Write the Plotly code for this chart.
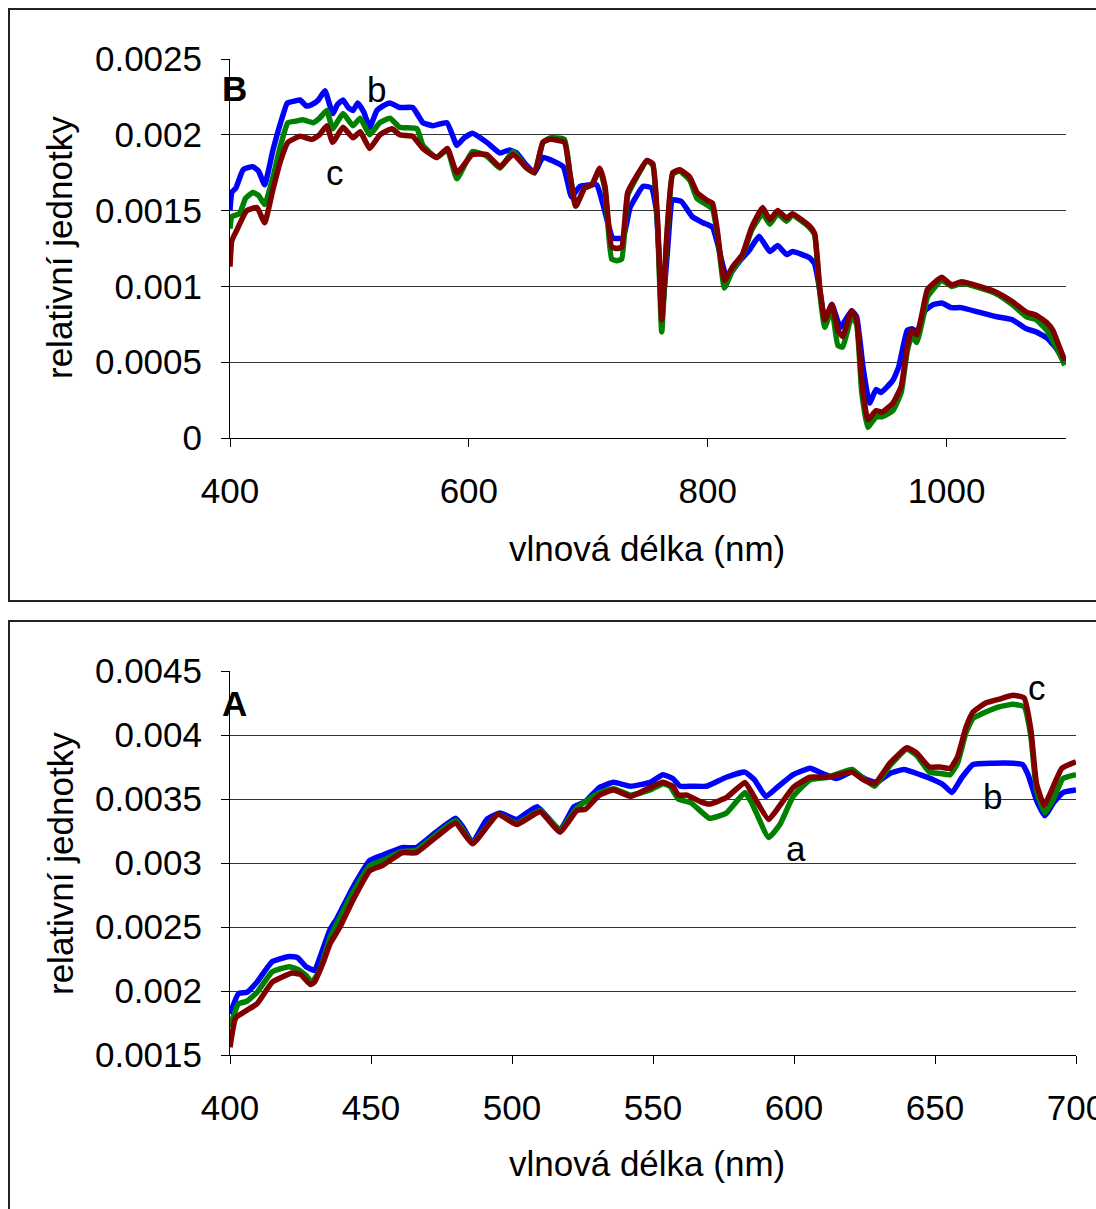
import plotly.graph_objects as go

# ---------------- Panel B (400-1100 nm) ----------------
b_blue_x = [400, 401.5, 405, 411, 419, 424, 429, 436, 442, 448, 453, 458.6, 464, 468.6, 474, 479.5, 486, 490, 494.6, 499, 503, 507, 512, 517, 523, 528, 534, 542, 553, 561.5, 570, 581.6, 590, 596, 603, 615, 626, 634, 640, 647, 655, 662, 679, 686, 693, 707, 712, 717, 720.5, 729, 735, 746, 753, 757, 762, 766, 770.7, 778, 787, 796, 804, 808, 816, 827, 835, 843, 852, 858.6, 866, 871, 885, 889.5, 893.7, 898, 904, 911, 920.5, 924.7, 930, 935.5, 941, 945, 955, 960, 967, 971, 975.6, 982, 989, 996, 1004, 1012, 1027, 1042, 1055, 1067, 1075, 1084, 1092, 1099]
b_blue_y = [0.00150, 0.00162, 0.00165, 0.00177, 0.00179, 0.00176, 0.00167, 0.00190, 0.00207, 0.00221, 0.00222, 0.00223, 0.00219, 0.00220, 0.00223, 0.00229, 0.00214, 0.00220, 0.00223, 0.00218, 0.00216, 0.00221, 0.00215, 0.00205, 0.00216, 0.00219, 0.00221, 0.00218, 0.00218, 0.00208, 0.00206, 0.00208, 0.00193, 0.00198, 0.00201, 0.00195, 0.00188, 0.00190, 0.00188, 0.00181, 0.00175, 0.00185, 0.00179, 0.00159, 0.00166, 0.00167, 0.00155, 0.00140, 0.00132, 0.00132, 0.00152, 0.00166, 0.00165, 0.00150, 0.00085, 0.00120, 0.00157, 0.00156, 0.00146, 0.00142, 0.00139, 0.00129, 0.00106, 0.00117, 0.00124, 0.00133, 0.00123, 0.00127, 0.00121, 0.00123, 0.00119, 0.00115, 0.00098, 0.00078, 0.00088, 0.00073, 0.00084, 0.00080, 0.00047, 0.00023, 0.00032, 0.00030, 0.00038, 0.00047, 0.00071, 0.00072, 0.00070, 0.00084, 0.00088, 0.00089, 0.00086, 0.00086, 0.00083, 0.00080, 0.00078, 0.00072, 0.00070, 0.00066, 0.00059, 0.00050]

b_green_x = [400, 401.5, 408, 413, 419, 424, 429, 436, 442, 448.5, 455, 461, 469.5, 475, 481, 486, 494.6, 503, 509, 517, 525.5, 534, 542, 556.5, 561.5, 573, 582, 590, 603, 615, 626, 637, 648.5, 655, 662, 668, 680, 684.5, 689.5, 697, 703, 709.6, 714, 719.6, 724, 728, 733, 740.6, 749, 754, 758, 761.5, 765.7, 770.7, 776.6, 785, 791, 799, 804, 808, 814, 821, 829, 836.8, 846, 852, 858.6, 866, 871, 885, 889.5, 893.7, 898, 904, 909, 913, 920.5, 924.7, 929, 934, 941, 946, 955, 962, 967, 970.7, 975, 980, 984, 996, 1004, 1012.5, 1027.6, 1042, 1055, 1067, 1075, 1084, 1093, 1099]
b_green_y = [0.00138, 0.00146, 0.00148, 0.00158, 0.00162, 0.00160, 0.00154, 0.00172, 0.00192, 0.00208, 0.00209, 0.00210, 0.00208, 0.00211, 0.00216, 0.00204, 0.00214, 0.00206, 0.00211, 0.00200, 0.00208, 0.00211, 0.00205, 0.00204, 0.00193, 0.00185, 0.00190, 0.00171, 0.00189, 0.00186, 0.00178, 0.00189, 0.00178, 0.00175, 0.00195, 0.00198, 0.00197, 0.00175, 0.00153, 0.00165, 0.00167, 0.00177, 0.00164, 0.00118, 0.00117, 0.00118, 0.00160, 0.00172, 0.00183, 0.00180, 0.00140, 0.00070, 0.00130, 0.00174, 0.00176, 0.00170, 0.00158, 0.00154, 0.00151, 0.00135, 0.00099, 0.00111, 0.00120, 0.00137, 0.00148, 0.00141, 0.00148, 0.00143, 0.00147, 0.00139, 0.00134, 0.00097, 0.00073, 0.00085, 0.00061, 0.00060, 0.00080, 0.00075, 0.00030, 0.00007, 0.00014, 0.00014, 0.00018, 0.00030, 0.00057, 0.00067, 0.00063, 0.00078, 0.00093, 0.00104, 0.00100, 0.00102, 0.00099, 0.00095, 0.00088, 0.00080, 0.00078, 0.00071, 0.00058, 0.00048]

b_red_x = [400, 401.5, 405.6, 414, 422.6, 429, 436, 442, 448.5, 458.6, 468.6, 475, 481, 486, 494.6, 503, 509, 517, 525.5, 535.6, 542, 553, 561.5, 573, 582, 590, 603, 615, 626, 637, 648.5, 655, 662, 668, 680, 684.5, 689.5, 697, 703, 709.6, 714, 719.6, 724, 728, 733, 740.6, 749, 754, 758, 761.5, 765.7, 770.7, 776.6, 785, 791, 799, 804, 808, 814, 821, 829, 836.8, 846, 852, 858.6, 866, 871, 885, 889.5, 893.7, 898, 904, 909, 913, 920.5, 924.7, 929, 934, 941, 946, 955, 962, 967, 970.7, 975, 980, 984, 996, 1004, 1012.5, 1027.6, 1042, 1055, 1067, 1075, 1084, 1089, 1093, 1099]
b_red_y = [0.00113, 0.00130, 0.00137, 0.00150, 0.00152, 0.00142, 0.00164, 0.00182, 0.00195, 0.00199, 0.00197, 0.00200, 0.00206, 0.00195, 0.00205, 0.00198, 0.00202, 0.00191, 0.00200, 0.00204, 0.00200, 0.00199, 0.00191, 0.00185, 0.00191, 0.00175, 0.00187, 0.00187, 0.00179, 0.00187, 0.00178, 0.00175, 0.00195, 0.00197, 0.00195, 0.00175, 0.00153, 0.00165, 0.00167, 0.00178, 0.00166, 0.00126, 0.00125, 0.00126, 0.00162, 0.00173, 0.00183, 0.00181, 0.00144, 0.00078, 0.00133, 0.00175, 0.00177, 0.00172, 0.00162, 0.00157, 0.00155, 0.00137, 0.00104, 0.00113, 0.00121, 0.00139, 0.00152, 0.00144, 0.00150, 0.00145, 0.00148, 0.00140, 0.00135, 0.00100, 0.00078, 0.00088, 0.00071, 0.00067, 0.00084, 0.00078, 0.00038, 0.00012, 0.00018, 0.00017, 0.00023, 0.00034, 0.00060, 0.00071, 0.00068, 0.00084, 0.00098, 0.00106, 0.00101, 0.00103, 0.00100, 0.00096, 0.00090, 0.00083, 0.00081, 0.00076, 0.00071, 0.00063, 0.00051]

# ---------------- Panel A (400-700 nm) ----------------
a_blue_x = [400, 403, 406, 409.6, 415, 421, 424, 427, 430, 432, 435.5, 438, 443.6, 449.6, 454, 461, 466, 473, 480, 482.6, 486, 491, 495.7, 501.7, 508.9, 517, 522, 526, 531, 536, 542, 549, 553.5, 557, 559.6, 564, 569, 576, 582.6, 586, 590, 594, 599.7, 605.7, 610, 615, 620.6, 626, 629.4, 634, 639, 644.7, 649.4, 653, 656, 659.6, 663.5, 670.6, 677.7, 681, 683, 686, 689, 692, 695.4, 700]
a_blue_y = [0.00182, 0.00198, 0.00199, 0.00207, 0.00223, 0.00227, 0.00226, 0.00219, 0.00216, 0.00227, 0.00248, 0.00257, 0.00281, 0.00302, 0.00306, 0.00312, 0.00312, 0.00324, 0.00335, 0.00328, 0.00316, 0.00334, 0.00339, 0.00334, 0.00344, 0.00326, 0.00344, 0.00348, 0.00359, 0.00363, 0.00360, 0.00363, 0.00369, 0.00366, 0.00360, 0.00360, 0.00360, 0.00367, 0.00371, 0.00365, 0.00352, 0.00359, 0.00369, 0.00374, 0.00370, 0.00366, 0.00371, 0.00365, 0.00363, 0.00370, 0.00373, 0.00369, 0.00365, 0.00361, 0.00355, 0.00367, 0.00377, 0.00378, 0.00378, 0.00377, 0.00369, 0.00349, 0.00337, 0.00347, 0.00355, 0.00357]

a_green_x = [400, 403, 406, 409.6, 415, 421, 424, 427, 429, 432, 435.5, 443.6, 449.6, 454, 461, 466, 473, 480, 486, 495, 501.7, 510, 517, 523, 531, 536, 542, 549, 553.5, 556, 559, 563.5, 570, 576, 582.6, 585, 591, 595, 599.7, 605.7, 612, 620.6, 624.6, 628.6, 634, 640, 643.5, 648, 651.8, 655.4, 658, 661, 663.5, 668, 672.7, 677.7, 681.6, 684, 686, 689, 692, 695.4, 700]
a_green_y = [0.00172, 0.00190, 0.00192, 0.00199, 0.00215, 0.00219, 0.00217, 0.00212, 0.00207, 0.00217, 0.00242, 0.00277, 0.00298, 0.00302, 0.00309, 0.00310, 0.00322, 0.00333, 0.00316, 0.00338, 0.00331, 0.00341, 0.00326, 0.00343, 0.00355, 0.00358, 0.00353, 0.00357, 0.00362, 0.00360, 0.00350, 0.00347, 0.00335, 0.00339, 0.00355, 0.00347, 0.00320, 0.00330, 0.00352, 0.00365, 0.00367, 0.00373, 0.00366, 0.00360, 0.00376, 0.00389, 0.00384, 0.00371, 0.00370, 0.00369, 0.00378, 0.00402, 0.00413, 0.00418, 0.00422, 0.00424, 0.00422, 0.00399, 0.00357, 0.00339, 0.00350, 0.00366, 0.00369]

a_red_x = [400, 402, 406, 409.6, 415, 422, 425, 428.5, 430, 433, 435.5, 439, 443.6, 449.6, 454, 461, 466, 473, 480, 486, 495, 501.7, 510, 517, 523, 526, 531, 536, 542, 549, 553.5, 557, 559, 562, 566.8, 570, 576, 582.6, 585, 591, 595, 599.7, 605.7, 612, 620.6, 624.6, 628.6, 634, 640, 643.5, 648, 651.8, 655.4, 658, 661, 663.5, 668, 672.7, 677.7, 681.6, 684, 686, 688.7, 691, 695, 700]
a_red_y = [0.00156, 0.00179, 0.00185, 0.00190, 0.00207, 0.00214, 0.00213, 0.00205, 0.00207, 0.00222, 0.00237, 0.00250, 0.00271, 0.00294, 0.00298, 0.00308, 0.00308, 0.00320, 0.00331, 0.00315, 0.00338, 0.00330, 0.00340, 0.00324, 0.00341, 0.00342, 0.00353, 0.00357, 0.00352, 0.00359, 0.00363, 0.00360, 0.00353, 0.00353, 0.00348, 0.00346, 0.00351, 0.00363, 0.00355, 0.00334, 0.00345, 0.00359, 0.00367, 0.00367, 0.00371, 0.00365, 0.00362, 0.00378, 0.00390, 0.00386, 0.00375, 0.00375, 0.00374, 0.00383, 0.00406, 0.00418, 0.00425, 0.00428, 0.00431, 0.00429, 0.00404, 0.00362, 0.00345, 0.00355, 0.00374, 0.00379]

# tick labels
b_xticks = [400, 600, 800, 1000]
b_yticks = [0, 0.0005, 0.001, 0.0015, 0.002, 0.0025]
b_ytext = ["0", "0.0005", "0.001", "0.0015", "0.002", "0.0025"]
a_xticks = [400, 450, 500, 550, 600, 650, 700]
a_yticks = [0.0015, 0.002, 0.0025, 0.003, 0.0035, 0.004, 0.0045]
a_ytext = ["0.0015", "0.002", "0.0025", "0.003", "0.0035", "0.004", "0.0045"]

# curve labels (text, x, y) in data units
b_labels = [("b", 523, 0.00230), ("c", 488, 0.00175), ("a", 955, -0.00012)]
a_labels = [("c", 686, 0.004375), ("b", 670.5, 0.003516), ("a", 600.7, 0.003117)]

W, H = 1096, 1209
FONT = "Arial, Liberation Sans, sans-serif"
FS = 35
COLORS = {"blue": "#0000FF", "green": "#008000", "red": "#800000"}

def px(xp):
    return xp / W

def py(yp):
    return 1 - yp / H

fig = go.Figure()
line_kw = dict(width=5.5)
for name, xs, ys in [("blue", b_blue_x, b_blue_y), ("green", b_green_x, b_green_y), ("red", b_red_x, b_red_y)]:
    fig.add_trace(go.Scatter(x=xs, y=ys, mode="lines", line=dict(color=COLORS[name], shape="spline", smoothing=0.4, **line_kw),
                             xaxis="x", yaxis="y", showlegend=False, hoverinfo="skip"))
for name, xs, ys in [("blue", a_blue_x, a_blue_y), ("green", a_green_x, a_green_y), ("red", a_red_x, a_red_y)]:
    fig.add_trace(go.Scatter(x=xs, y=ys, mode="lines", line=dict(color=COLORS[name], shape="spline", smoothing=0.4, **line_kw),
                             xaxis="x2", yaxis="y2", showlegend=False, hoverinfo="skip"))

axis_common = dict(showline=True, linecolor="#000000", linewidth=1, ticks="outside", ticklen=8, automargin=False,
                   tickcolor="#000000", tickfont=dict(family=FONT, size=FS, color="#000"), zeroline=False,
                   ticklabeloverflow="allow")

fig.update_layout(
    width=W, height=H, margin=dict(l=0, r=0, t=0, b=0, autoexpand=False),
    paper_bgcolor="white", plot_bgcolor="white",
    xaxis=dict(domain=[px(230), px(1066)], range=[400, 1100], anchor="y", tickvals=b_xticks,
               showgrid=False, ticklabelstandoff=14, **axis_common),
    yaxis=dict(domain=[py(438), py(59)], range=[0, 0.0025], anchor="x", tickvals=b_yticks, ticktext=b_ytext,
               showgrid=True, gridcolor="#333333", gridwidth=1, ticklabelstandoff=12, **axis_common),
    xaxis2=dict(domain=[px(230), px(1076)], range=[400, 700], anchor="y2", tickvals=a_xticks,
                showgrid=False, ticklabelstandoff=14, **axis_common),
    yaxis2=dict(domain=[py(1055), py(671)], range=[0.0015, 0.0045], anchor="x2", tickvals=a_yticks, ticktext=a_ytext,
                showgrid=True, gridcolor="#333333", gridwidth=1, ticklabelstandoff=12, **axis_common),
)

ann = []
txt_font = dict(family=FONT, size=FS, color="#000")
# axis titles
for ycen in (248, 864):
    ann.append(dict(text="relativní jednotky", x=px(60), y=py(ycen), xref="paper", yref="paper",
                    showarrow=False, textangle=-90, font=txt_font, xanchor="center", yanchor="middle"))
for ycen in (548, 1163):
    ann.append(dict(text="vlnová délka (nm)", x=px(647), y=py(ycen), xref="paper", yref="paper",
                    showarrow=False, font=txt_font, xanchor="center", yanchor="middle"))
# panel letters
ann.append(dict(text="<b>B</b>", x=px(234), y=py(88), xref="paper", yref="paper", showarrow=False,
                font=txt_font, xanchor="center", yanchor="middle"))
ann.append(dict(text="<b>A</b>", x=px(234), y=py(703), xref="paper", yref="paper", showarrow=False,
                font=txt_font, xanchor="center", yanchor="middle"))
for t, xv, yv in b_labels:
    ann.append(dict(text=t, x=xv, y=yv, xref="x", yref="y", showarrow=False, font=txt_font,
                    xanchor="center", yanchor="middle"))
for t, xv, yv in a_labels:
    ann.append(dict(text=t, x=xv, y=yv, xref="x2", yref="y2", showarrow=False, font=txt_font,
                    xanchor="center", yanchor="middle"))
fig.update_layout(annotations=ann)

# outer frames
fig.add_shape(type="rect", xref="paper", yref="paper", x0=px(9), x1=1.05, y0=py(601), y1=py(9),
              line=dict(color="#222222", width=2), fillcolor="rgba(0,0,0,0)", layer="below")
fig.add_shape(type="rect", xref="paper", yref="paper", x0=px(9), x1=1.05, y0=-0.05, y1=py(621),
              line=dict(color="#222222", width=2), fillcolor="rgba(0,0,0,0)", layer="below")

fig.write_html("out.html", config={"displayModeBar": False},
               post_script="document.body.style.margin='0px';document.body.style.overflow='hidden';")
